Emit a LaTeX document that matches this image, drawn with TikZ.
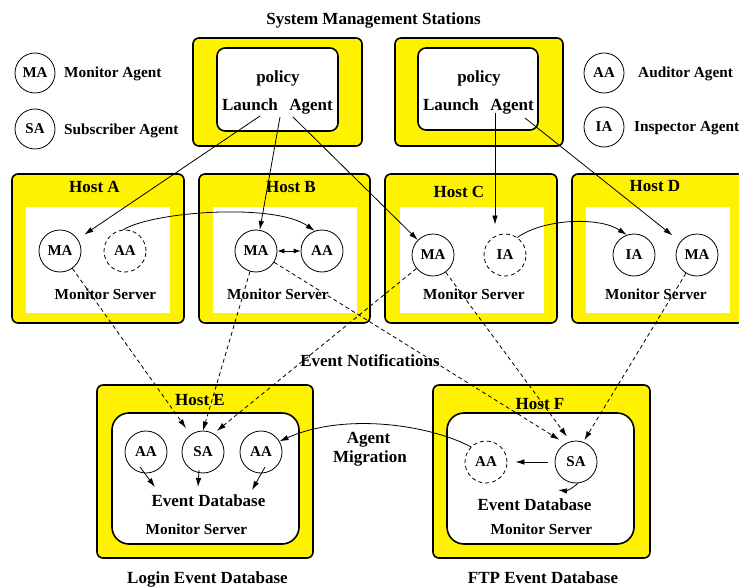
\documentclass[tikz,border=0pt]{standalone}
\usepackage{fontspec}
\setmainfont{Liberation Serif}
\usetikzlibrary{arrows.meta}
\begin{document}
\begin{tikzpicture}[x=1pt,y=-1pt,
  big/.style={font=\fontsize{17}{19}\selectfont\bfseries, inner sep=0pt, anchor=base},
  med/.style={font=\fontsize{15.3}{17}\selectfont\bfseries, inner sep=0pt, anchor=base},
  agent/.style={circle, draw, line width=0.8pt, minimum size=42pt, inner sep=0pt, font=\fontsize{15}{17}\selectfont\bfseries},
  legendag/.style={agent, minimum size=40pt},
  ghost/.style={agent, dash pattern=on 4pt off 3pt},
  ybox/.style={draw, fill=yellow, line width=1.6pt, rounded corners=6pt, inner sep=0pt},
  wbox/.style={draw, fill=white, line width=1.6pt, rounded corners=8pt, inner sep=0pt},
  dbbox/.style={draw, fill=white, line width=1.6pt, rounded corners=17pt, inner sep=0pt},
  plain/.style={fill=white, inner sep=0pt},
  tip/.style={-{Latex[length=9pt,width=5.5pt]}},
  link/.style={tip, line width=0.8pt},
  notify/.style={tip, line width=0.8pt, dash pattern=on 4pt off 3pt}
]
\useasboundingbox (0,0) rectangle (739,588);

% title
\node[big] (title) at (373.5,25) {System Management Stations};

% legend
\node[legendag] (lMA) at (35,73) {MA};
\node[med, anchor=base west] (tMA) at (64,78) {Monitor Agent};
\node[legendag] (lSA) at (35,129) {SA};
\node[med, anchor=base west] (tSA) at (64,135) {Subscriber Agent};
\node[legendag] (lAA) at (604,73) {AA};
\node[med, anchor=base west] (tAA) at (638,78) {Auditor Agent};
\node[legendag] (lIA) at (604,127) {IA};
\node[med, anchor=base west] (tIA) at (634,132) {Inspector Agent};

% management stations
\node[ybox, minimum width=169pt, minimum height=108pt] (S1) at (277.5,92) {};
\node[wbox, minimum width=121pt, minimum height=83pt] (S1in) at (277.5,89.5) {};
\node[big] (pol1) at (278,83) {policy};
\node[big] (lau1) at (250,111) {Launch};
\node[big] (age1) at (311,111) {Agent};
\node[ybox, minimum width=168pt, minimum height=108pt] (S2) at (479,92) {};
\node[wbox, minimum width=120pt, minimum height=82pt] (S2in) at (478,89) {};
\node[big] (pol2) at (479,83) {policy};
\node[big] (lau2) at (451,111) {Launch};
\node[big] (age2) at (512,111) {Agent};

% hosts row 1
\node[ybox, minimum width=172pt, minimum height=149pt] (HA) at (98,248.5) {};
\node[plain, minimum width=144pt, minimum height=106pt] (HAin) at (98,260) {};
\node[ybox, minimum width=171pt, minimum height=149pt] (HB) at (284.5,248.5) {};
\node[plain, minimum width=144pt, minimum height=106pt] (HBin) at (285,260) {};
\node[ybox, minimum width=172pt, minimum height=149pt] (HC) at (471,248.5) {};
\node[plain, minimum width=144pt, minimum height=106pt] (HCin) at (472,260) {};
\node[ybox, minimum width=172pt, minimum height=149pt] (HD) at (658,248.5) {};
\node[plain, minimum width=144pt, minimum height=106pt] (HDin) at (658,260) {};

\node[big] (hA) at (94.5,193) {Host A};
\node[big] (hB) at (291,193) {Host B};
\node[big] (hC) at (459,198) {Host C};
\node[big] (hD) at (655,192) {Host D};

\node[med] (msA) at (105.5,299) {Monitor Server};
\node[med] (msB) at (278,299) {Monitor Server};
\node[med] (msC) at (474,299) {Monitor Server};
\node[med] (msD) at (656,299) {Monitor Server};

\node[agent] (AMA) at (60,251) {MA};
\node[ghost] (AAA) at (125,251) {AA};
\node[agent] (BMA) at (256,251) {MA};
\node[agent] (BAA) at (322,251) {AA};
\node[agent] (CMA) at (433,255) {MA};
\node[ghost] (CIA) at (505,255) {IA};
\node[agent] (DIA) at (634,255) {IA};
\node[agent] (DMA) at (697,255) {MA};

% hosts row 2
\node[ybox, minimum width=216pt, minimum height=173pt] (HE) at (205,471.5) {};
\node[dbbox, minimum width=187pt, minimum height=131pt] (HEin) at (205.5,478.5) {};
\node[ybox, minimum width=217pt, minimum height=173pt] (HF) at (541.5,471.5) {};
\node[dbbox, minimum width=187pt, minimum height=131pt] (HFin) at (540.5,478.5) {};

\node[big] (hE) at (200,405) {Host E};
\node[big] (hF) at (540,409) {Host F};

\node[agent] (EAA1) at (146,452) {AA};
\node[agent] (ESA) at (203,452) {SA};
\node[agent] (EAA2) at (261,452) {AA};
\node[ghost] (FAA) at (486,462) {AA};
\node[agent] (FSA) at (576,462) {SA};

\node[big] (edbE) at (208.5,506) {Event Database};
\node[med] (msE) at (196.5,534) {Monitor Server};
\node[big] (edbF) at (534.5,510) {Event Database};
\node[med] (msF) at (541.5,534) {Monitor Server};

\node[big] (login) at (207.5,583) {Login Event Database};
\node[big] (ftp) at (543,583) {FTP Event Database};
\node[big] (mig1) at (368.5,443) {Agent};
\node[big] (mig2) at (370,462) {Migration};
\node[big] (evn) at (370,366) {Event Notifications};

% launch connectors
\coordinate (s1l) at (260,116);
\coordinate (s1a) at (280,117);
\coordinate (s1b) at (293,117);
\coordinate (s2a) at (495,113);
\coordinate (s2b) at (525,118);
\draw[link, shorten >=8pt] (s1l) -- (AMA);
\draw[link] (s1a) -- (BMA);
\draw[link] (s1b) -- (CMA);
\draw[link, shorten >=9pt] (s2a) -- (s2a |- CIA.north);
\draw[link, shorten >=10pt] (s2b) -- (DMA);

% migrations within row 1
\draw[link] (AAA.95) .. controls (155,211) and (275,203) .. (BAA.110);
\draw[line width=0.8pt, {Latex[length=7pt,width=5pt]}-{Latex[length=7pt,width=5pt]}] (BMA) -- (BAA);
\draw[link] (CIA.55) .. controls (545,218) and (600,217) .. (DIA.110);

% event notifications
\draw[notify, shorten >=8pt] (AMA) -- (ESA);
\draw[notify] (BMA) -- (ESA.north);
\draw[notify, shorten >=4pt] (CMA) -- (ESA.60);
\draw[notify, shorten >=7pt] (BMA) -- (FSA.120);
\draw[notify, shorten >=6pt] (CMA) -- (FSA.105);
\draw[notify, shorten >=2pt] (DMA) -- (FSA.70);

% agent migration
\draw[link] (FAA.135) .. controls (430,425) and (345,412) .. (EAA2.30);

% to event databases
\coordinate (e1s) at (140,467);
\coordinate (e1t) at (155,487);
\coordinate (e2s) at (199,470);
\coordinate (e2t) at (198,487);
\coordinate (e3s) at (265,467);
\coordinate (e3t) at (252,490);
\coordinate (f1t) at (558,490);
\draw[link] (e1s) -- (e1t);
\draw[link] (e2s) -- (e2t);
\draw[link] (e3s) -- (e3t);
\draw[link, shorten <=7pt, shorten >=8pt] (FSA) -- (FAA);
\draw[link] (FSA.-85) to[bend left=25] (f1t);
\end{tikzpicture}
\end{document}
